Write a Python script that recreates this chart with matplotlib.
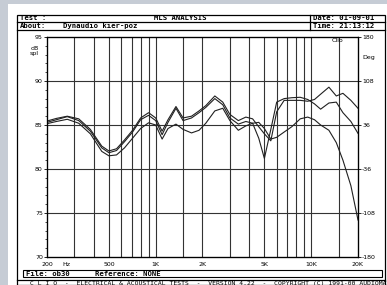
import numpy as np
import matplotlib
matplotlib.use("Agg")
import matplotlib.pyplot as plt
from matplotlib.patches import Rectangle
from matplotlib.lines import Line2D

# frequency points (Hz)
freq = [200, 230, 270, 320, 380, 450, 500, 560, 630, 710, 800, 900, 1000,
        1100, 1200, 1350, 1500, 1700, 1900, 2100, 2400, 2700, 3000, 3400,
        3800, 4200, 4600, 5000, 5500, 6000, 6700, 7500, 8500, 9500, 10500,
        11500, 13000, 14500, 16000, 18000, 20000]

# three response curves, dB spl
curve_top = [85.45, 85.75, 86.0, 85.7, 84.5, 82.6, 82.05, 82.3, 83.3, 84.4,
             85.8, 86.4, 85.8, 84.3, 85.6, 87.1, 85.8, 86.0, 86.6, 87.2,
             88.3, 87.6, 86.2, 85.5, 85.9, 85.7, 84.8, 84.0, 83.2, 86.5,
             87.8, 87.8, 87.8, 87.7, 87.9, 88.5, 89.3, 88.3, 88.6, 87.8, 86.9]
curve_mid = [85.3, 85.6, 85.95, 85.5, 84.3, 82.4, 81.85, 82.1, 83.1, 84.2,
             85.6, 86.1, 85.5, 83.9, 85.3, 86.9, 85.5, 85.8, 86.4, 87.0,
             88.0, 87.3, 85.8, 85.1, 85.4, 85.2, 83.5, 81.2, 84.5, 87.6,
             88.0, 88.1, 88.15, 87.9, 87.4, 86.8, 87.5, 87.6, 86.4, 85.4, 84.05]
curve_low = [85.15, 85.4, 85.65, 85.2, 84.0, 82.0, 81.5, 81.6, 82.4, 83.5,
             84.6, 85.25, 85.0, 83.4, 84.6, 85.1, 84.5, 84.1, 84.4, 85.2,
             86.6, 86.9, 85.5, 84.4, 84.9, 85.2, 85.3, 84.6, 83.4, 83.6,
             84.2, 84.8, 85.7, 85.9, 85.6, 85.0, 84.4, 83.0, 81.0, 78.1, 74.2]

grid_freqs = [300, 400, 500, 600, 700, 800, 900, 1000, 1500, 2000, 3000,
              4000, 5000, 6000, 7000, 8000, 9000, 10000, 15000]
x_labels = {200: "200", 500: "500", 1000: "1K", 2000: "2K", 5000: "5K",
            10000: "10K", 20000: "20K"}
db_ticks = [70, 75, 80, 85, 90, 95]
deg_ticks = [-180, -108, -36, 36, 108, 180]

W, H = 387, 285
mono = "DejaVu Sans Mono"


def px(x, y):
    return x / W, 1 - y / H


fig = plt.figure(figsize=(W / 100, H / 100), dpi=100)
fig.patch.set_facecolor("#c6ccd5")

# white page and frame
fig.patches.append(Rectangle(px(8, 285), (W - 8) / W, (285 - 4) / H,
                             transform=fig.transFigure, facecolor="white",
                             edgecolor="none", zorder=-5))
fig.patches.append(Rectangle(px(17, 285), (385 - 17) / W, (285 - 15) / H,
                             transform=fig.transFigure, facecolor="none",
                             edgecolor="black", lw=0.9, zorder=1))

# header box
for y in [22, 29.5]:
    fig.lines.append(Line2D([17 / W, 385 / W], [1 - y / H] * 2,
                            transform=fig.transFigure, color="black", lw=0.9))
fig.lines.append(Line2D([310 / W] * 2, [1 - 15 / H, 1 - 29.5 / H],
                        transform=fig.transFigure, color="black", lw=0.9))
hdr = dict(fontsize=5.2, family=mono, fontweight="bold", va="center")
fig.text(*px(20, 18.5), "Test :", **hdr)
fig.text(*px(180, 18.5), "MLS ANALYSIS", ha="center", **hdr)
fig.text(*px(20, 26), "About:", **hdr)
fig.text(*px(63, 26), "Dynaudio kier-poz", **hdr)
fig.text(*px(313, 18.5), "Date: 01-09-01", **hdr)
fig.text(*px(313, 26), "Time: 21:13:12", **hdr)

# plot area
ax = fig.add_axes([47 / W, (H - 257) / H, 311 / W, 220 / H])
ax.set_zorder(2)
ax.set_xscale("log")
ax.set_xlim(200, 20000)
ax.set_ylim(70, 95)

for f in grid_freqs:
    ax.axvline(f, color="#333333", lw=0.8, zorder=1)
for d in [75, 80, 85, 90]:
    ax.axhline(d, color="#333333", lw=0.8, zorder=1)

for c in [curve_low, curve_mid, curve_top]:
    ax.plot(freq, c, color="#202020", lw=0.8, zorder=3)

ax.set_yticks(db_ticks)
ax.set_yticklabels([str(d) for d in db_ticks])
ax.set_yticks(np.arange(70, 96, 1), minor=True)
ax.tick_params(axis="y", which="major", length=2, width=0.6, labelsize=4.5,
               pad=1)
ax.tick_params(axis="y", which="minor", length=1.2, width=0.5)
ax.xaxis.set_major_locator(matplotlib.ticker.NullLocator())
ax.xaxis.set_minor_locator(matplotlib.ticker.NullLocator())
for s in ax.spines.values():
    s.set_linewidth(0.9)

# phase axis on the right
ax2 = ax.twinx()
ax2.set_ylim(-180, 180)
ax2.set_yticks(deg_ticks)
ax2.set_yticklabels([str(d) for d in deg_ticks])
ax2.tick_params(axis="y", length=2, width=0.6, labelsize=4.5, pad=1)

for f, lab in x_labels.items():
    ax.text(f, -0.035, lab, transform=ax.get_xaxis_transform(), ha="center",
            va="center", fontsize=4.5)
ax.text(250, -0.035, "Hz", transform=ax.get_xaxis_transform(), ha="left",
        va="center", fontsize=4.5)

fig.text(*px(31, 48), "dB", fontsize=4.5, ha="left", va="center")
fig.text(*px(30, 54), "spl", fontsize=4.5, ha="left", va="center")
fig.text(*px(337, 40), "Clio", fontsize=4.5, ha="center", va="center",
         zorder=5)
fig.text(*px(362, 57), "Deg", fontsize=4.5, ha="left", va="center")

# footer
fig.patches.append(Rectangle(px(23, 277), (382 - 23) / W, 7 / H,
                             transform=fig.transFigure, facecolor="none",
                             edgecolor="black", lw=0.8))
fig.text(*px(26, 273.5), "File: ob30", **hdr)
fig.text(*px(95, 273.5), "Reference: NONE", **hdr)
fig.lines.append(Line2D([17 / W, 385 / W], [1 - 279.5 / H] * 2,
                        transform=fig.transFigure, color="black", lw=0.9))
fig.text(*px(30, 284), "C L I O  -  ELECTRICAL & ACOUSTICAL TESTS  -  "
         "VERSION 4.22  -  COPYRIGHT (C) 1991-00 AUDIOMATICA",
         fontsize=4.6, family=mono, va="center")

fig.savefig("out.png", dpi=100)
